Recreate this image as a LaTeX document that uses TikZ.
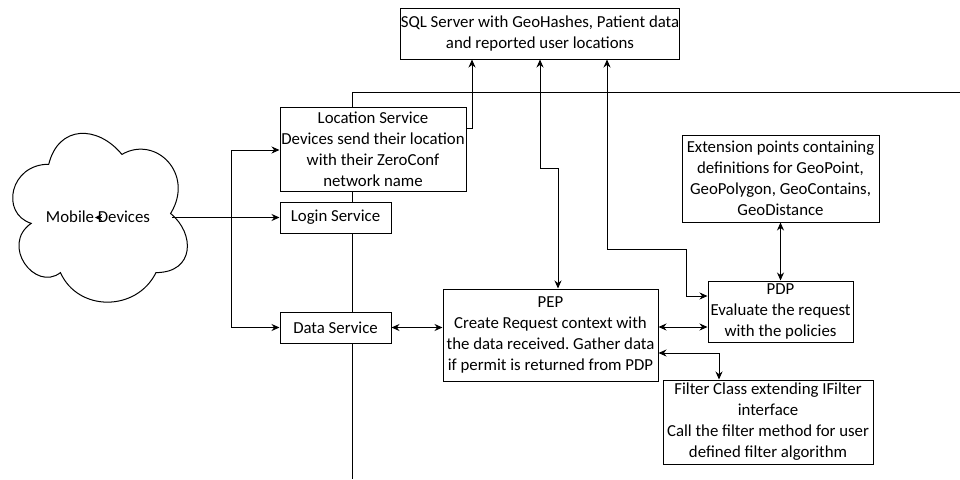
\documentclass[tikz,border=0pt]{standalone}
\usepackage{fontspec}
\setmainfont{Carlito}
\usetikzlibrary{arrows.meta,calc}
\frenchspacing
\begin{document}
\begin{tikzpicture}[x=1pt,y=-1pt,
  box/.style={draw=black,fill=white,line width=1pt,align=center,inner sep=0pt,font=\fontsize{16.8}{21}\selectfont},
  lbl/.style={inner sep=0pt,font=\fontsize{16.8}{21}\selectfont},
  conn/.style={line width=1pt,draw=black},
  tip/.style={-{Stealth[length=8pt,width=7pt]}},
  both/.style={{Stealth[length=8pt,width=7pt]}-{Stealth[length=8pt,width=7pt]}},
]
\useasboundingbox (0,0) rectangle (960,479);

% lane lines
\coordinate (laneTop) at (352,92);
\coordinate (laneRight) at (960,92);
\coordinate (laneBot) at (352,479);
\draw[conn] (laneRight) -- (laneTop) -- (laneBot);

% cloud
\draw[line width=1pt,fill=white] (48.75,164.25)
  .. controls (9.75,164.25) and (0,213.5) .. (31.2,223.35)
  .. controls (0,245.0) and (35.1,292.3) .. (60.45,272.6)
  .. controls (78,312) and (136.5,312) .. (156,272.6)
  .. controls (195,272.6) and (195,233.2) .. (170.6,213.5)
  .. controls (195,174.1) and (156,134.7) .. (121.9,154.4)
  .. controls (97.5,124.85) and (58.5,124.85) .. (48.75,164.25) -- cycle;
\node[lbl] (cloud) at (98,217) {Mobile Devices};
\coordinate (cloudE) at (172,217.5);
\coordinate (cloudC) at (102,217.5);
\coordinate (cloudTip) at (95,217.5);

% boxes
\node[box,minimum width=268,minimum height=51] (sql) at (540,33.5) {SQL Server with GeoHashes, Patient data\\and reported user locations};
\node[box,minimum width=186,minimum height=84] (loc) at (373,149) {Location Service\\Devices send their location\\with their ZeroConf\\network name};
\node[box,minimum width=111,minimum height=31] (login) at (335.5,217.5) {Login Service};
\node[box,minimum width=111,minimum height=31] (data) at (335.5,327.5) {Data Service};
\node[box,minimum width=215,minimum height=92] (pep) at (550.5,335) {PEP\\Create Request context with\\the data received. Gather data\\if permit is returned from PDP};
\node[box,minimum width=197,minimum height=87] (ext) at (780.5,178.5) {Extension points containing\\definitions for GeoPoint,\\GeoPolygon, GeoContains,\\GeoDistance};
\node[box,minimum width=145,minimum height=61] (pdp) at (780.5,311.5) {PDP\\Evaluate the request\\with the policies};
\node[box,minimum width=210,minimum height=84] (filt) at (768,422) {Filter Class extending IFilter\\interface\\Call the filter method for user\\defined filter algorithm};

% connectors from the cloud
\coordinate (br1) at (231,150);
\coordinate (br2) at (231,327.5);
\draw[conn] (br1) -- (br2);
\draw[conn,tip] (cloudE) -- (login.west);
\draw[conn,tip] (br1) -- (br1 -| loc.west);
\draw[conn,tip] (br2) -- (data.west);
\draw[conn,-{Stealth[length=7pt,width=7pt]}] (cloudC) -- (cloudTip);

% location -> sql
\draw[conn,tip] ([yshift=21]loc.east) -| ([xshift=-68]sql.south);

% sql <-> pep
\coordinate (k1) at (540,168);
\draw[conn,both] (sql.south) -- (k1) -| ([xshift=7.5]pep.north);

% sql <-> pdp
\coordinate (k2) at (607,249);
\coordinate (k3) at (686,249);
\draw[conn,both] ([xshift=67]sql.south) -- (k2) -- (k3) |- ([yshift=15.5]pdp.west);

% ext <-> pdp
\draw[conn,both] (ext.south) -- (pdp.north);

% data <-> pep
\draw[conn,both] (data.east) -- (data.east -| pep.west);

% pep <-> pdp
\draw[conn,both] ([yshift=8]pep.east) -- ([yshift=8]pep.east -| pdp.west);

% pep <-> filter
\draw[conn,both] ([yshift=-18]pep.east) -| ([xshift=-49]filt.north);
\end{tikzpicture}
\end{document}
